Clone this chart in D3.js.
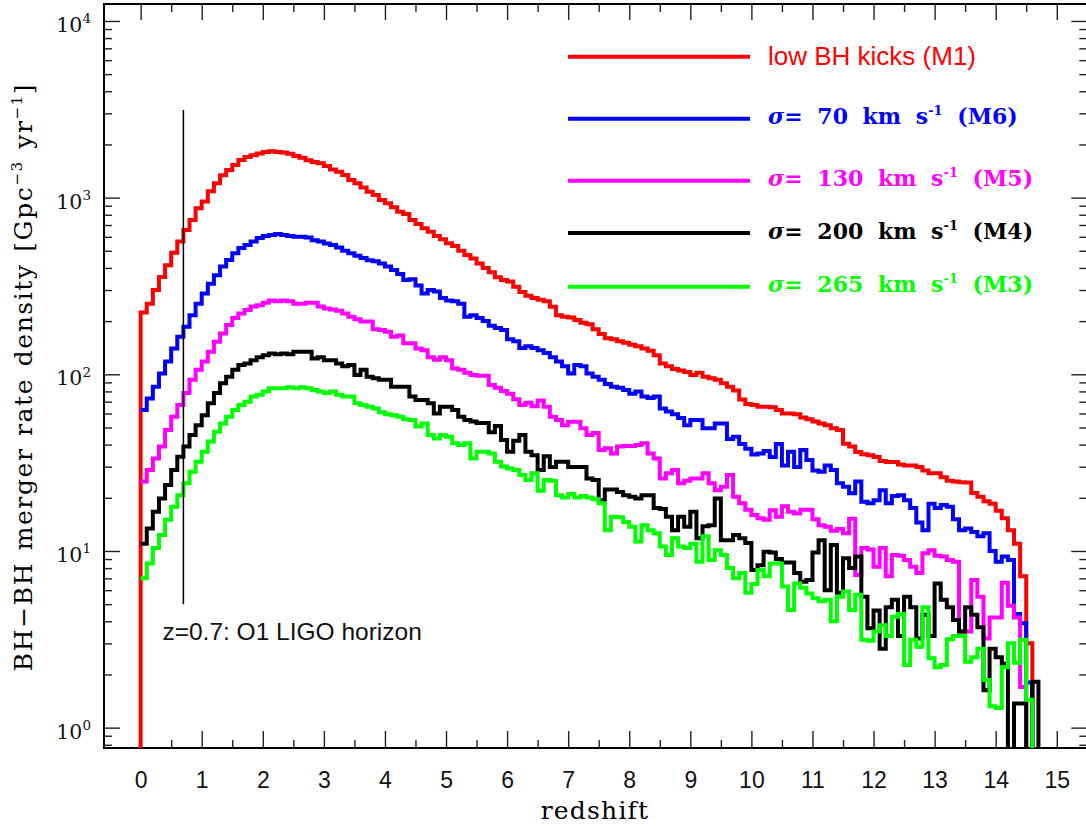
<!DOCTYPE html>
<html>
<head>
<meta charset="utf-8">
<script src="https://cdn.jsdelivr.net/npm/d3@7"></script>
<style>
body { margin: 0; background: #fff; }
svg { display: block; }
</style>
</head>
<body>
<svg id="chart" width="1086" height="826"></svg>
<script>
/*********************
	Data
**********************/
// merger rate density per redshift bin (bin width 0.1, first bin starts at z = 0)
var binWidth = 0.1;

var rateM1 = [224, 251, 300, 356, 414, 488, 565, 656, 747, 870,
	950, 1085, 1205, 1340, 1433, 1530, 1632, 1700, 1740, 1780,
	1815, 1830, 1815, 1800, 1770, 1720, 1680, 1630, 1590, 1563,
	1510, 1445, 1402, 1343, 1259, 1205, 1143, 1080, 1035, 970,
	929, 881, 832, 807, 747, 709, 670, 641, 606, 581,
	551, 532, 500, 473, 453, 424, 400, 378, 354, 342,
	335, 313, 292, 278, 270, 264, 259, 241, 216, 212,
	210, 203, 196, 192, 180, 169, 160, 158, 154, 151,
	147, 144, 140, 136, 128, 115, 111, 107, 105, 103,
	99, 102, 97, 95, 93, 89, 85, 81, 72, 68,
	67, 65.5, 65.5, 65, 62.8, 60, 60, 59.4, 57, 55.7,
	54, 52.6, 51.5, 49.5, 48.4, 40.5, 39, 36.3, 35.3, 34.8,
	34, 32.3, 31.9, 31.9, 30.9, 30.5, 30.5, 29.9, 28.5, 27.5,
	27.5, 26.1, 25, 24.7, 24.5, 24.4, 21.3, 20.3, 19.1, 18.5,
	16.9, 15.3, 13.1, 11.0, 7.2, 3.0, 0];

var rateM6 = [62.8, 73, 85, 101, 118, 140, 163, 186, 216, 251,
	287, 326, 364, 408, 444, 485, 519, 540, 565, 590,
	607, 615, 622, 615, 607, 600, 600, 595, 573, 565,
	550, 540, 522, 500, 485, 469, 455, 442, 437, 424,
	408, 389, 370, 342, 345, 318, 287, 300, 294, 270,
	262, 259, 251, 212, 216, 208, 200, 188, 183, 178,
	158, 154, 141, 144, 141, 137, 132, 125, 118, 111,
	101, 113, 111, 101, 97, 93, 88, 85, 84, 81.5,
	77.6, 80, 75, 73.5, 75, 64, 61.5, 59.4, 56.5, 51.5,
	55.1, 55.1, 49.5, 49.5, 52.6, 52.6, 43, 44.3, 40.3, 37.9,
	35.2, 35.6, 36.8, 34, 40.3, 30.5, 36.4, 29.9, 37.3, 32.7,
	28.5, 28.1, 30.5, 28.7, 24.2, 23.1, 21.2, 24.7, 19, 18.6,
	19.4, 22.1, 18.6, 20.5, 20.7, 19.4, 17.5, 14.5, 13.1, 18.5,
	17.5, 18.2, 17.8, 15.1, 13.1, 13.4, 12.8, 12.1, 12.6, 10.0,
	8.7, 9.3, 8.9, 4.4, 3.9, 1.8, 0];

var rateM5 = [24.7, 28.7, 33.4, 39, 48.4, 57.5, 67, 78.3, 93, 106,
	118, 134, 153, 170, 190, 208, 221, 231, 242, 246,
	254, 262, 259, 262, 259, 251, 251, 254, 254, 242,
	236, 233, 229, 221, 212, 205, 199, 199, 180, 178,
	174, 163, 166, 150, 150, 140, 137, 125, 121, 125,
	120, 108, 106, 102, 99, 98, 98, 87, 84, 80.5,
	77.6, 72.3, 67, 69, 66, 71, 65.6, 57.5, 55.1, 51.5,
	53.9, 53.9, 49.5, 45.3, 46.5, 37.3, 38.2, 35.6, 39, 39.3,
	39.3, 39.8, 40.7, 35.6, 33.4, 25.7, 27.5, 28.7, 24.2, 25,
	25.7, 25.7, 27.5, 24.2, 22.1, 23.1, 26.9, 20.3, 18.6, 17.1,
	16, 15.3, 15, 17, 15.6, 17.9, 16.7, 16.3, 17.1, 17.1,
	15.1, 14, 13.7, 13, 13.3, 12.6, 15.2, 7.3, 10.4, 10.2,
	8.15, 10.4, 7.2, 9.5, 9.4, 8.9, 8.15, 7.5, 9.7, 10.1,
	9.4, 9.3, 8.9, 8.7, 3.5, 3.5, 6.85, 5.5, 3.2, 4.2,
	4.2, 6.6, 4.9, 4.2, 1.7, 0];

var rateM4 = [11.0, 13.4, 16.7, 19.8, 23.6, 28.7, 34.2, 39, 45.3, 51.5,
	58.7, 68.5, 78.3, 89, 97, 106, 113, 115, 120, 125,
	128, 131, 130, 131, 130, 134, 134, 134, 123, 125,
	120, 120, 115, 111, 113, 99, 106, 97, 95, 93,
	93, 85, 85, 85, 75, 71.6, 71.6, 68.5, 60, 65.6,
	65.6, 62.8, 57.5, 55.1, 54, 53, 53, 47, 51, 42.5,
	36.4, 42.1, 45.3, 36.4, 34.8, 28.7, 34.4, 29.9, 32, 32,
	29.9, 29.9, 29.9, 25.7, 25.2, 19.4, 22.3, 22.3, 21.6, 20.7,
	20.3, 19.8, 20.7, 20.7, 17.5, 17.3, 15.6, 13.1, 15.6, 13.7,
	16.7, 11.8, 13.8, 14, 19.8, 11.5, 11.5, 12.3, 11.8, 11.1,
	7.8, 8.3, 9.9, 9.8, 9.0, 8.6, 8.6, 7.5, 6.7, 6.85,
	9.8, 11.5, 6.0, 10.8, 5.8, 9.1, 8.0, 9.3, 5.5, 3.65,
	4.6, 2.8, 4.8, 5.3, 3.3, 5.5, 4.8, 3.2, 4.35, 3.3,
	6.55, 5.3, 4.8, 4.07, 3.5, 4.8, 4.35, 3.7, 1.63, 2.8,
	2.5, 2.3, 0, 1.37, 1.37, 0, 1.82, 0];

var rateM3 = [7.0, 8.5, 10.4, 12.3, 15.0, 17.8, 20.7, 24.2, 28.1, 32,
	36.4, 41.7, 47.3, 52.6, 57.5, 62.8, 67, 70, 75, 76.5,
	80, 83.5, 83.5, 83.5, 84.5, 83.5, 84.5, 83.5, 81.5, 80,
	78.3, 80, 76.5, 75, 75, 68.5, 67, 65.6, 64, 60.9,
	59.4, 58.7, 57.5, 55.6, 55.1, 50.6, 52.6, 45.3, 43.3, 45.3,
	44.3, 40.7, 39.8, 40.7, 33.4, 36.4, 36.4, 35.6, 32, 30.1,
	29.3, 28.7, 26.9, 25.2, 27.5, 21.9, 25.2, 25, 20.7, 20.1,
	21, 20.1, 20.5, 20.1, 19.6, 18.6, 13.1, 15.6, 15.5, 14.6,
	13.7, 11.3, 14, 13.1, 12.6, 10.6, 9.5, 11.8, 10.6, 10.4,
	11.0, 8.7, 12.1, 8.9, 10.1, 9.5, 8.0, 7.0, 7.5, 5.8,
	6.5, 7.8, 7.2, 8.5, 8.5, 6.3, 4.63, 6.55, 6.2, 5.75,
	5.4, 5.2, 5.3, 4.0, 5.5, 5.9, 4.63, 5.65, 3.14, 3.1,
	3.5, 3.8, 3.3, 4.25, 4.4, 2.26, 3.14, 2.87, 4.8, 2.47,
	2.2, 2.26, 3.16, 3.3, 3.3, 2.36, 2.5, 2.8, 1.86, 1.32,
	1.29, 2.2, 3.0, 2.33, 3.14, 1.44, 0];

var seriesNames = ["M1", "M6", "M5", "M4", "M3"];
var seriesColors = ["#ff0000", "#0000ff", "#ff00ff", "#000000", "#00ff00"];
var seriesSigma = [null, "70", "130", "200", "265"];

var xTickValues = d3.range(0, 16);
var xMinorValues = d3.range(0.5, 15.5, 1);
var yDecades = [1, 10, 100, 1000, 10000];

var horizonZ = 0.7;
var horizonRate = [5.0, 3130];

/*********************
	Layout
**********************/
var svg = d3.select("#chart");
var plotLeft = 104, plotTop = 4, plotRight = 1087.3, plotBottom = 748;

var x = d3.scaleLinear().domain([-0.6, 15.5]).range([plotLeft, plotRight]);
var y = d3.scaleLog().domain([0.767, 12474]).range([plotBottom, plotTop]);

svg.append("defs").append("clipPath").attr("id", "plot-clip")
	.append("rect")
	.attr("x", plotLeft).attr("y", plotTop)
	.attr("width", plotRight - plotLeft).attr("height", plotBottom - plotTop);

// minor y ticks: 2..9 of every decade
var yMinorValues = [0.8, 0.9];
yDecades.forEach(function(d){
	for (var k = 2; k <= 9; k++){
		if (d * k < 12474) yMinorValues.push(d * k);
	}
});

function styleTicks(g){
	g.select(".domain").remove();
	g.selectAll(".tick line").attr("stroke", "#222").attr("stroke-width", 1.4);
}

// bottom & top ticks
svg.append("g").attr("transform", "translate(0," + plotBottom + ")")
	.call(d3.axisBottom(x).tickValues(xTickValues).tickSize(-17).tickPadding(24).tickFormat(d3.format("d")))
	.call(styleTicks)
	.call(function(g){
		g.selectAll("text")
			.attr("fill", "#111")
			.style("font-family", "'Liberation Sans', Arial, sans-serif")
			.style("font-size", "23px");
	});
svg.append("g").attr("transform", "translate(0," + plotBottom + ")")
	.call(d3.axisBottom(x).tickValues(xMinorValues).tickSize(-8).tickFormat(""))
	.call(styleTicks);
svg.append("g").attr("transform", "translate(0," + plotTop + ")")
	.call(d3.axisTop(x).tickValues(xTickValues).tickSize(-16).tickFormat(""))
	.call(styleTicks);
svg.append("g").attr("transform", "translate(0," + plotTop + ")")
	.call(d3.axisTop(x).tickValues(xMinorValues).tickSize(-8).tickFormat(""))
	.call(styleTicks);

// left & right ticks
svg.append("g").attr("transform", "translate(" + plotLeft + ",0)")
	.call(d3.axisLeft(y).tickValues(yDecades).tickSize(-16).tickFormat(""))
	.call(styleTicks);
svg.append("g").attr("transform", "translate(" + plotLeft + ",0)")
	.call(d3.axisLeft(y).tickValues(yMinorValues).tickSize(-8).tickFormat(""))
	.call(styleTicks);
svg.append("g").attr("transform", "translate(" + plotRight + ",0)")
	.call(d3.axisRight(y).tickValues(yDecades).tickSize(-16).tickFormat(""))
	.call(styleTicks);
svg.append("g").attr("transform", "translate(" + plotRight + ",0)")
	.call(d3.axisRight(y).tickValues(yMinorValues).tickSize(-8).tickFormat(""))
	.call(styleTicks);

// y tick labels as 10^n
var yLabels = svg.append("g")
	.style("font-family", "'DejaVu Serif', serif")
	.attr("fill", "#111");
yDecades.forEach(function(d){
	var t = yLabels.append("text")
		.attr("x", 91)
		.attr("y", y(d) + 11)
		.attr("text-anchor", "end")
		.style("font-size", "20.5px");
	t.append("tspan").text("10");
	t.append("tspan").attr("dy", -8.5).style("font-size", "13.5px").text(Math.round(Math.log10(d)));
});

// frame
svg.append("rect")
	.attr("x", plotLeft).attr("y", plotTop)
	.attr("width", plotRight - plotLeft).attr("height", plotBottom - plotTop)
	.attr("fill", "none").attr("stroke", "#000").attr("stroke-width", 2);

// axis titles
svg.append("text")
	.attr("x", 595).attr("y", 819)
	.attr("text-anchor", "middle")
	.style("font-family", "'DejaVu Serif', serif")
	.style("font-size", "25px")
	.style("letter-spacing", "1.2px")
	.text("redshift");

var yTitle = svg.append("text")
	.attr("transform", "translate(32,377) rotate(-90)")
	.attr("text-anchor", "middle")
	.style("font-family", "'DejaVu Serif', serif")
	.style("font-size", "25px")
	.style("letter-spacing", "1.6px")
	.style("word-spacing", "2px");
yTitle.append("tspan").text("BH\u2212BH merger rate density [Gpc");
yTitle.append("tspan").attr("dy", -10).style("font-size", "15px").text("\u22123");
yTitle.append("tspan").attr("dy", 10).text(" yr");
yTitle.append("tspan").attr("dy", -10).style("font-size", "15px").text("\u22121");
yTitle.append("tspan").attr("dy", 10).text("]");

/*********************
	Histograms
**********************/
var allRates = [rateM1, rateM6, rateM5, rateM4, rateM3];

function stepPoints(rates, startZ){
	var pts = rates.map(function(v, i){ return [startZ + i * binWidth, v]; });
	pts.push([startZ + rates.length * binWidth, rates[rates.length - 1]]);
	return pts;
}

var line = d3.line()
	.x(function(d){ return x(d[0]); })
	.y(function(d){ return d[1] > 0 ? y(d[1]) : plotBottom + 20; })
	.curve(d3.curveStepAfter);

var plot = svg.append("g").attr("clip-path", "url(#plot-clip)");

allRates.forEach(function(rates, i){
	// the M1 histogram rises from the axis at z = 0
	var data = i == 0 ? stepPoints([0].concat(rates), -binWidth) : stepPoints(rates, 0);
	plot.append("path")
		.attr("d", line(data))
		.attr("fill", "none")
		.attr("stroke", seriesColors[i])
		.attr("stroke-width", 4)
		.attr("stroke-linejoin", "miter")
		.attr("stroke-linecap", "butt");
});

// O1 LIGO horizon
svg.append("line")
	.attr("x1", x(horizonZ)).attr("x2", x(horizonZ))
	.attr("y1", y(horizonRate[1])).attr("y2", y(horizonRate[0]))
	.attr("stroke", "#000").attr("stroke-width", 1.5);
svg.append("text")
	.attr("x", x(horizonZ) - 21).attr("y", 640)
	.style("font-family", "'Liberation Sans', Arial, sans-serif")
	.style("font-size", "24.5px")
	.attr("fill", "#111")
	.text("z=0.7: O1 LIGO horizon");

/*********************
	Legend
**********************/
var legendY = [56.7, 118.7, 180.7, 233, 286.7];
var legend = svg.append("g");

seriesNames.forEach(function(name, i){
	legend.append("line")
		.attr("x1", 568).attr("x2", 750)
		.attr("y1", legendY[i]).attr("y2", legendY[i])
		.attr("stroke", seriesColors[i]).attr("stroke-width", 4);

	var t = legend.append("text")
		.attr("x", 768)
		.attr("fill", seriesColors[i]);
	if (seriesSigma[i] == null){
		t.attr("y", legendY[i] + 8.5)
			.style("font-family", "'Liberation Sans', Arial, sans-serif")
			.style("font-size", "26px")
			.text("low BH kicks (" + name + ")");
	} else {
		t.attr("y", legendY[i] + 5.5)
			.style("font-family", "'DejaVu Serif', serif")
			.style("font-weight", "bold")
			.style("font-size", "22px")
			.style("word-spacing", "7px");
		t.append("tspan").style("font-style", "italic").text("\u03c3");
		t.append("tspan").text("= " + seriesSigma[i] + " km s");
		t.append("tspan").attr("dy", -9).style("font-size", "13px").text("-1");
		t.append("tspan").attr("dy", 9).text(" (" + name + ")");
	}
});
</script>
</body>
</html>
